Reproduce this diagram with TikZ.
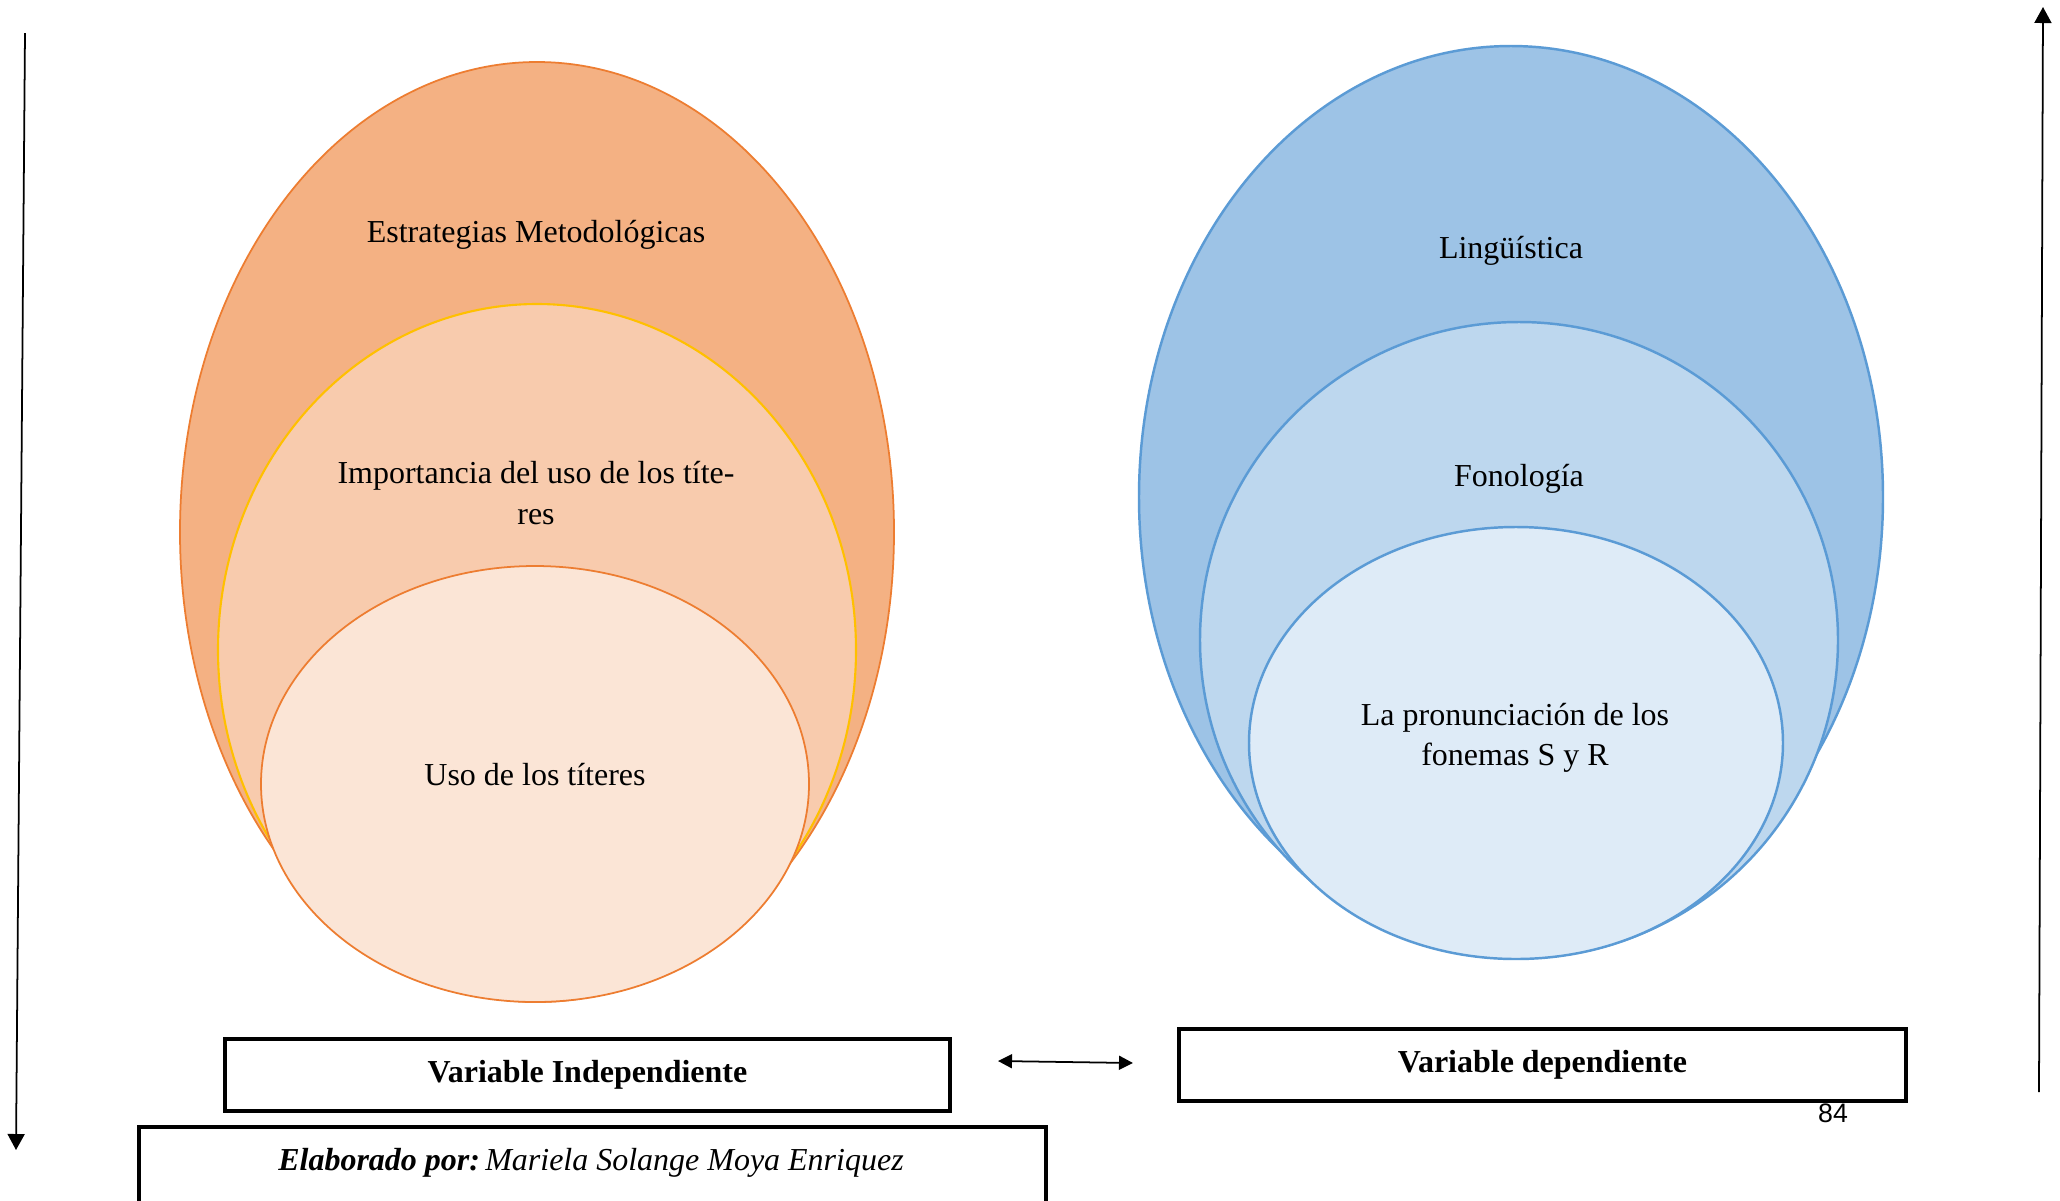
\documentclass[tikz,border=0pt]{standalone}
\usepackage{fontspec}
\setmainfont{Liberation Serif}
\newfontfamily\pagefont{Liberation Sans}
\usepackage{xcolor}
\usetikzlibrary{arrows.meta}
\definecolor{naranja}{HTML}{ED7D31}
\definecolor{naranjaA}{HTML}{F4B183}
\definecolor{naranjaB}{HTML}{F8CBAD}
\definecolor{naranjaC}{HTML}{FBE5D6}
\definecolor{oro}{HTML}{FFC000}
\definecolor{azul}{HTML}{5B9BD5}
\definecolor{azulA}{HTML}{9DC3E6}
\definecolor{azulB}{HTML}{BDD7EE}
\definecolor{azulC}{HTML}{DEEBF7}

\begin{document}
\begin{tikzpicture}[font=\fontsize{9.1}{11.4}\selectfont,
  txt/.style={align=center,inner sep=0pt},
  varbox/.style={draw,line width=0.9pt,minimum height=0.72cm,font=\fontsize{9.1}{11.4}\selectfont\bfseries}]
\useasboundingbox (0,0) rectangle (20.6,-12);
\fill[white] (0,0) rectangle (20.6,-12);

\draw[naranja,fill=naranjaA,line width=0.5pt] (5.37,-5.32) ellipse [x radius=3.57cm,y radius=4.70cm];
\draw[oro,fill=naranjaB,line width=0.6pt] (5.37,-6.50) ellipse [x radius=3.19cm,y radius=3.46cm];
\draw[naranja,fill=naranjaC,line width=0.5pt] (5.35,-7.84) ellipse [x radius=2.74cm,y radius=2.18cm];

\draw[azul,fill=azulA,line width=0.7pt] (15.11,-4.97) ellipse [x radius=3.72cm,y radius=4.51cm];
\draw[azul,fill=azulB,line width=0.7pt] (15.19,-6.40) ellipse [x radius=3.19cm,y radius=3.18cm];
\draw[azul,fill=azulC,line width=0.7pt] (15.16,-7.43) ellipse [x radius=2.67cm,y radius=2.16cm];

\node[txt] (estr) at (5.36,-2.35) {Estrategias Metodológicas};
\node[txt] (imp) at (5.36,-4.93) {Importancia del uso de los títe-\\res};
\node[txt] (uso) at (5.35,-7.75) {Uso de los títeres};
\node[txt] (ling) at (15.11,-2.51) {Lingüística};
\node[txt] (fono) at (15.19,-4.79) {Fonología};
\node[txt] (pron) at (15.15,-7.38) {La pronunciación de los\\fonemas S y R};

\node[varbox,minimum width=7.25cm] (vi) at (5.875,-10.75) {Variable Independiente};
\node[varbox,minimum width=7.27cm] (vd) at (15.425,-10.65) {Variable dependiente};
\draw[line width=0.9pt] (1.39,-11.27) rectangle (10.46,-12.4);
\node[txt] (autor) at (5.91,-11.63) {\textbf{\textit{Elaborado por:}}\,\textit{Mariela Solange Moya Enriquez}};
\node[txt,font=\pagefont\fontsize{7.6}{9}\selectfont] (pag) at (18.33,-11.13) {84};

\coordinate (izqA) at (0.25,-0.33);
\coordinate (izqB) at (0.16,-11.50);
\coordinate (derA) at (20.39,-10.92);
\coordinate (derB) at (20.43,-0.07);
\coordinate (midA) at (9.98,-10.61);
\coordinate (midB) at (11.33,-10.63);
\draw[line width=0.5pt,-{Triangle[length=0.16cm,width=0.17cm]}] (izqA) -- (izqB);
\draw[line width=0.5pt,-{Triangle[length=0.16cm,width=0.17cm]}] (derA) -- (derB);
\draw[line width=0.5pt,{Triangle[length=0.14cm,width=0.14cm]}-{Triangle[length=0.14cm,width=0.14cm]}] (midA) -- (midB);
\end{tikzpicture}
\end{document}
